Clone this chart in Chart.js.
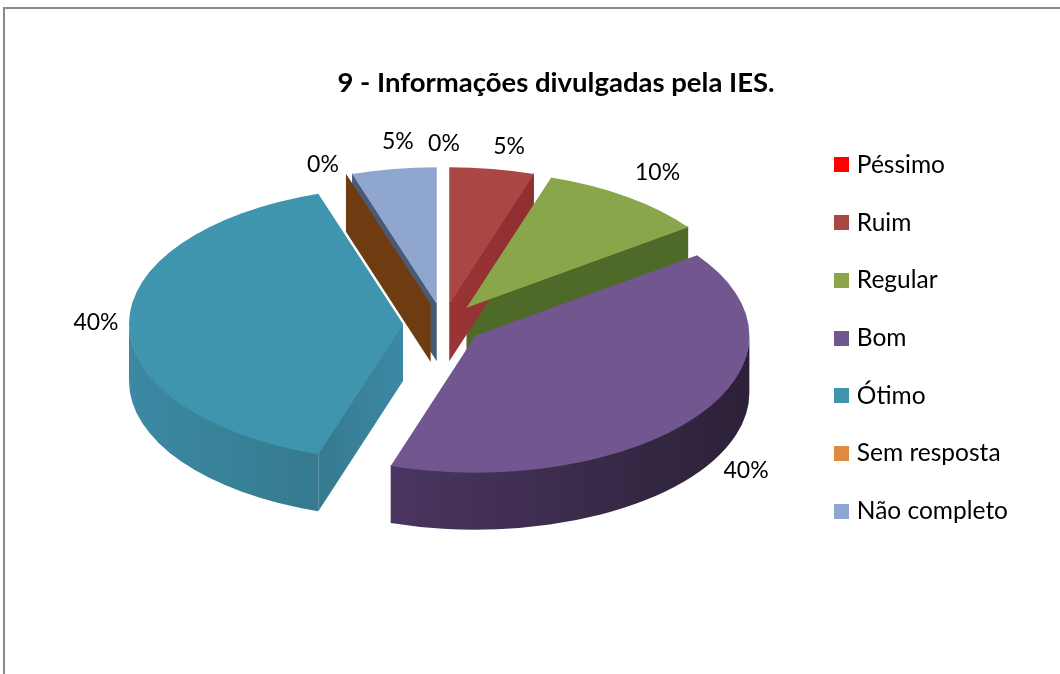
<!DOCTYPE html>
<html>
<head>
<meta charset="utf-8">
<script src="https://cdn.jsdelivr.net/npm/chart.js@4"></script>
<style>
  html, body { margin: 0; background: #fff; overflow: hidden; }
  #frame { position: absolute; left: 3px; top: 7px; width: 1060px; height: 680px; border-left: 2px solid #8a8a8a; border-top: 2px solid #8a8a8a; box-sizing: border-box; }
  canvas { position: absolute; left: 0; top: 0; }
</style>
</head>
<body>
<div id="frame"></div>
<canvas id="myChart" width="1060" height="674"></canvas>
<script>
const titleText = "9 - Informações divulgadas pela IES.";
const categories = ["Péssimo", "Ruim", "Regular", "Bom", "Ótimo", "Sem resposta", "Não completo"];
const percents = [0, 5, 10, 40, 40, 0, 5];
const topColors = ["#ff0000", "#aa4644", "#8aa64b", "#71568f", "#4095ae", "#e08a3e", "#8fa7cf"];
// side walls: [left, right] of a horizontal gradient
const wallColors = [
  ["#a00000", "#a00000"],
  ["#8f2f30", "#9a3435"],
  ["#4f6a28", "#4f6a28"],
  ["#4a3660", "#2c2138"],
  ["#3c89a4", "#357a8e"],
  ["#6e3c10", "#6e3c10"],
  ["#4a5a75", "#4a5a75"],
];

const pieX = 443, pieY = 324, pieRadius = 274, explode = 40;
const tilt = 0.5, depth = 57;
// label shift from the rim of its slice
const labelShift = [[1, -23], [17, -22], [30, -24], [49, 54], [-33, -1], [-23, -10], [4, -27]];

function screenPoint(arc, angle) {
  const mid = (arc.startAngle + arc.endAngle) / 2;
  const x = explode * Math.cos(mid) + pieRadius * Math.cos(angle);
  const y = explode * Math.sin(mid) + pieRadius * Math.sin(angle);
  return { x: pieX + x, y: pieY + y * tilt };
}

function centerPoint(arc) {
  const mid = (arc.startAngle + arc.endAngle) / 2;
  return { x: pieX + explode * Math.cos(mid), y: pieY + explode * Math.sin(mid) * tilt };
}

function wallGradient(ctx, i, x0, x1) {
  const g = ctx.createLinearGradient(x0, 0, x1, 0);
  g.addColorStop(0, wallColors[i][0]);
  g.addColorStop(1, wallColors[i][1]);
  return g;
}

// walls start 1px up, under the top face, so no light seam shows between them
function radialWall(ctx, arc, angle, i) {
  const c = centerPoint(arc), p = screenPoint(arc, angle);
  ctx.fillStyle = wallGradient(ctx, i, Math.max(c.x, p.x) + 1, Math.min(c.x, p.x));
  ctx.beginPath();
  ctx.moveTo(c.x, c.y - 1);
  ctx.lineTo(p.x, p.y - 1);
  ctx.lineTo(p.x, p.y + depth);
  ctx.lineTo(c.x, c.y + depth);
  ctx.closePath();
  ctx.fill();
}

function outerWall(ctx, arc, i) {
  const a0 = Math.max(arc.startAngle, 0), a1 = Math.min(arc.endAngle, Math.PI);
  if (a1 <= a0) return;
  const c = centerPoint(arc);
  ctx.fillStyle = wallGradient(ctx, i, screenPoint(arc, a1).x, screenPoint(arc, a0).x);
  ctx.beginPath();
  ctx.ellipse(c.x, c.y - 1, pieRadius, pieRadius * tilt, 0, a0, a1);
  ctx.ellipse(c.x, c.y + depth, pieRadius, pieRadius * tilt, 0, a1, a0, true);
  ctx.closePath();
  ctx.fill();
}

const tiltedPie = {
  id: "tiltedPie",
  afterDatasetsUpdate(chart) {
    // explode here and not with the offset option, that one changes the radius per slice
    chart.getDatasetMeta(0).data.forEach((arc) => {
      const mid = (arc.startAngle + arc.endAngle) / 2;
      arc.x += explode * Math.cos(mid);
      arc.y += explode * Math.sin(mid);
    });
  },
  beforeDatasetDraw(chart) {
    const ctx = chart.ctx;
    const arcs = chart.getDatasetMeta(0).data;
    const area = chart.chartArea;
    // back to front, the empty Sem resposta wall hides most of the Não completo one
    for (let i = arcs.length - 1; i >= 0; i--) {
      const arc = arcs[i];
      if (Math.cos(arc.startAngle) < -1e-6) radialWall(ctx, arc, arc.startAngle, i);
      if (Math.cos(arc.endAngle) > 1e-6) radialWall(ctx, arc, arc.endAngle, i);
      outerWall(ctx, arc, i);
    }
    ctx.save();
    ctx.translate(pieX, pieY);
    ctx.scale(1, tilt);
    ctx.translate(-(area.left + area.right) / 2, -(area.top + area.bottom) / 2);
  },
  afterDatasetDraw(chart) {
    chart.ctx.restore();
  },
  afterDraw(chart) {
    const ctx = chart.ctx;
    ctx.save();
    ctx.fillStyle = "#000";
    ctx.font = "23px Lato";
    ctx.textAlign = "center";
    ctx.textBaseline = "middle";
    chart.getDatasetMeta(0).data.forEach((arc, i) => {
      const p = screenPoint(arc, (arc.startAngle + arc.endAngle) / 2);
      ctx.fillText(percents[i] + "%", p.x + labelShift[i][0], p.y + labelShift[i][1]);
    });
    ctx.restore();
  },
};

function swatch(color) {
  const c = document.createElement("canvas");
  c.width = 15;
  c.height = 15;
  const g = c.getContext("2d");
  g.fillStyle = color;
  g.fillRect(0, 0, 15, 15);
  return c;
}

new Chart(document.getElementById("myChart"), {
  type: "pie",
  data: {
    labels: categories,
    datasets: [{
      data: percents,
      backgroundColor: topColors,
      borderWidth: 0,
    }],
  },
  options: {
    responsive: false,
    animation: false,
    radius: pieRadius,
    layout: { padding: { left: 94, right: 42, top: 0, bottom: 108 } },
    plugins: {
      title: {
        display: true,
        text: titleText,
        color: "#000",
        font: { family: "Lato", size: 27.5, weight: "bold" },
        padding: { top: 67, bottom: 10 },
      },
      legend: {
        position: "right",
        fullSize: false,
        labels: {
          color: "#000",
          font: { family: "Lato", size: 24.5 },
          usePointStyle: true,
          pointStyleWidth: 6,
          boxHeight: 15,
          padding: 33.2,
          generateLabels(chart) {
            const items = Chart.overrides.pie.plugins.legend.labels.generateLabels(chart);
            return items.map((it, i) => ({ ...it, pointStyle: swatch(topColors[i]) }));
          },
        },
      },
      tooltip: { enabled: false },
    },
  },
  plugins: [tiltedPie],
});
</script>
</body>
</html>
